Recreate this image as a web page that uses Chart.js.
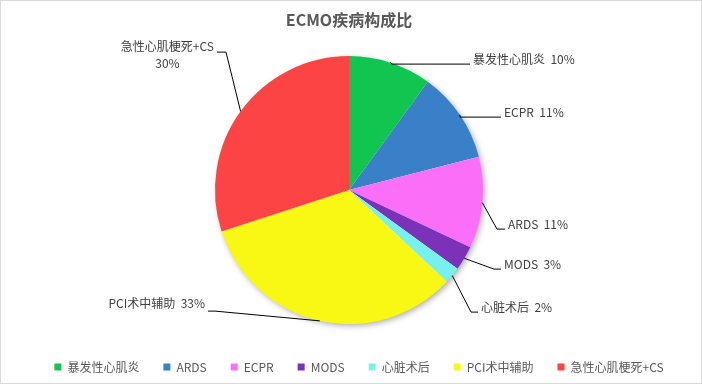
<!DOCTYPE html>
<html>
<head>
<meta charset="utf-8">
<script src="https://cdn.jsdelivr.net/npm/chart.js@4.4.1/dist/chart.umd.min.js"></script>
<style>
    html, body { margin: 0; padding: 0; background: #fff; }
</style>
</head>
<body>
<canvas id="myChart" width="702" height="384"></canvas>
<script>
// categories as they appear in the legend
const categories = ['暴发性心肌炎', 'ARDS', 'ECPR', 'MODS', '心脏术后', 'PCI术中辅助', '急性心肌梗死+CS'];
// share of each category, percent
const shares = [10, 11, 11, 3, 2, 33, 30];
// names printed next to the slices (the original swaps ARDS / ECPR here)
const sliceNames = ['暴发性心肌炎', 'ECPR', 'ARDS', 'MODS', '心脏术后', 'PCI术中辅助', '急性心肌梗死+CS'];
const sliceColors = ['#12c450', '#3a80c8', '#fa6ef8', '#7b32b8', '#78f0ee', '#f8f814', '#fc4444'];

const FONT = '"Noto Sans CJK SC", "Noto Sans", sans-serif';

// leader lines: elbow and end point, relative to pie centre; text drawn just past the end
const leaders = [
    { elbow: [43, -126], end: [121, -126], align: 'left' },
    { elbow: [111, -73], end: [152, -73], align: 'left' },
    { elbow: [148, 39], end: [156, 39], align: 'left' },
    { elbow: [145, 79], end: [152, 79], align: 'left' },
    { elbow: [122, 122], end: [129, 122], align: 'left' },
    { elbow: [-134, 121], end: [-141, 121], align: 'right' },
    { elbow: [-123, -138], end: [-132, -138], align: 'stack' }
];

const frame = {
    id: 'frame',
    afterLayout(chart) {
        // legend sits a bit right of centre in the original
        chart.legend.left += 10;
        chart.legend.right += 10;
    },
    beforeDraw(chart) {
        const c = chart.ctx;
        c.save();
        c.fillStyle = '#fff';
        c.fillRect(0, 0, chart.width, chart.height);
        c.strokeStyle = '#d9d9d9';
        c.lineWidth = 1;
        c.strokeRect(0.5, 0.5, chart.width - 1, chart.height - 1);
        c.restore();
    },
    beforeDatasetsDraw(chart) {
        const arc = chart.getDatasetMeta(0).data[0];
        if (!arc) return;
        const c = chart.ctx;
        c.save();
        c.shadowColor = 'rgba(0,0,0,0.35)';
        c.shadowBlur = 6;
        c.shadowOffsetX = 2;
        c.shadowOffsetY = 2;
        c.fillStyle = '#fff';
        c.beginPath();
        c.arc(arc.x, arc.y, arc.outerRadius - 0.5, 0, Math.PI * 2);
        c.fill();
        c.restore();
    }
};

const sliceLabels = {
    id: 'sliceLabels',
    afterDatasetsDraw(chart) {
        const c = chart.ctx;
        const arcs = chart.getDatasetMeta(0).data;
        c.save();
        c.font = '12px ' + FONT;
        c.textBaseline = 'middle';
        arcs.forEach((a, i) => {
            const mid = (a.startAngle + a.endAngle) / 2;
            const ax = a.x + Math.cos(mid) * a.outerRadius;
            const ay = a.y + Math.sin(mid) * a.outerRadius;
            const L = leaders[i];
            const ex = a.x + L.end[0], ey = a.y + L.end[1];
            c.strokeStyle = '#000';
            c.lineWidth = 1;
            c.beginPath();
            c.moveTo(ax, ay);
            c.lineTo(a.x + L.elbow[0], a.y + L.elbow[1]);
            c.lineTo(ex, ey);
            c.stroke();
            c.fillStyle = '#404040';
            const txt = sliceNames[i];
            const pct = shares[i] + '%';
            if (L.align === 'left') {
                c.textAlign = 'left';
                c.fillText(txt + '  ' + pct, ex + 3, ey - 5);
            } else if (L.align === 'right') {
                c.textAlign = 'right';
                c.fillText(txt + '  ' + pct, ex - 3, ey - 8);
            } else {
                c.textAlign = 'center';
                const w = c.measureText(txt).width;
                const cx = ex - 3 - w / 2;
                c.fillText(txt, cx, ey - 6);
                c.fillText(pct, cx, ey + 11);
            }
        });
        c.restore();
    }
};

const ctx = document.getElementById('myChart');

const myChart = new Chart(ctx, {
    type: 'pie',
    data: {
        labels: categories,
        datasets: [{
            data: shares,
            backgroundColor: sliceColors,
            borderWidth: 0,
            radius: 134
        }]
    },
    options: {
        responsive: false,
        animation: false,
        layout: {
            padding: { top: 0, bottom: 1, left: 0, right: 4 }
        },
        plugins: {
            title: {
                display: true,
                text: 'ECMO疾病构成比',
                color: '#595959',
                font: { family: FONT, size: 16, weight: 'bold' },
                padding: { top: 10, bottom: 14 }
            },
            legend: {
                position: 'bottom',
                labels: {
                    color: '#595959',
                    font: { family: FONT, size: 12 },
                    boxWidth: 7,
                    boxHeight: 7,
                    padding: 24
                }
            },
            tooltip: { enabled: false }
        }
    },
    plugins: [frame, sliceLabels]
});
</script>
</body>
</html>
